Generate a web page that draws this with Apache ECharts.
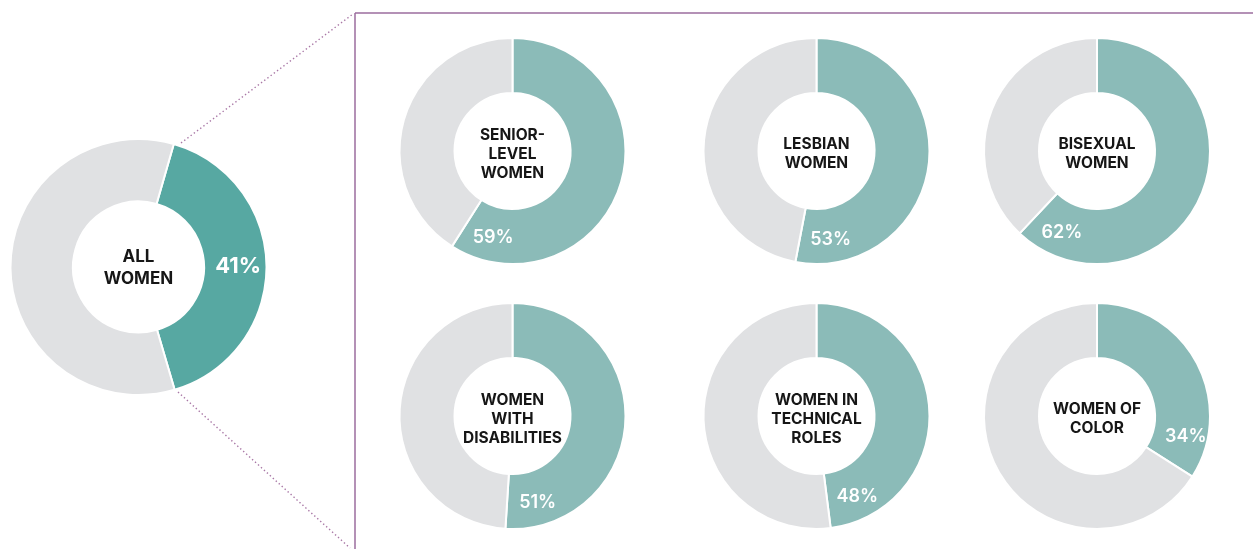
<!DOCTYPE html>
<html>
<head>
<meta charset="utf-8">
<script src="https://cdn.jsdelivr.net/npm/echarts@6/dist/echarts.min.js"></script>
<style>
  html, body { margin: 0; padding: 0; background: #ffffff; }
  #chart { width: 1253px; height: 549px; }
</style>
</head>
<body>
<div id="chart"></div>
<script>
// Share of women (percent) for each group
const mainLabel = 'ALL\nWOMEN';
const mainValue = 41;

const groupLabels = [
  'SENIOR-\nLEVEL\nWOMEN',
  'LESBIAN\nWOMEN',
  'BISEXUAL\nWOMEN',
  'WOMEN\nWITH\nDISABILITIES',
  'WOMEN IN\nTECHNICAL\nROLES',
  'WOMEN OF\nCOLOR'
];
const groupValues = [59, 53, 62, 51, 48, 34];

// Layout
const W = 1253, H = 549;
const FONT = 'Inter, "Open Sans", sans-serif';
const COL_X = [512.5, 816.5, 1097];
const ROW_Y = [151, 416];
const SMALL_R = [58, 113];
const BIG = { cx: 138.5, cy: 267, r: [65.5, 128], start: 74 };
const FRAME = { x: 355, y: 13 };

const TEAL_BIG = '#57a8a2';
const TEAL = '#8bbbb8';
const GREY = '#e0e1e3';

// Offset that moves an 'inside' label from the arc's middle to just before its end
function labelOffset(value, r0, r1) {
  const rad = d => d * Math.PI / 180;
  const mid = value * 3.6 / 2;
  const target = value * 3.6 - 18;
  const rm = (r0 + r1) / 2;
  const rt = 89;
  return [
    rt * Math.sin(rad(target)) - rm * Math.sin(rad(mid)),
    -rt * Math.cos(rad(target)) + rm * Math.cos(rad(mid))
  ];
}

function donut(cx, cy, radius, startAngle, value, name, color, pctStyle, centerStyle) {
  return {
    type: 'pie',
    center: [cx, cy],
    radius: radius,
    startAngle: startAngle,
    clockwise: true,
    silent: true,
    animation: false,
    avoidLabelOverlap: false,
    labelLine: { show: false },
    emphasis: { disabled: true },
    itemStyle: { borderColor: '#ffffff', borderWidth: 2 },
    data: [
      {
        value: value,
        name: name + '-share',
        itemStyle: { color: color },
        label: Object.assign({
          show: true,
          position: 'inside',
          formatter: value + '%',
          color: '#ffffff',
          fontFamily: FONT
        }, pctStyle)
      },
      {
        value: 100 - value,
        name: name,
        itemStyle: { color: GREY },
        label: Object.assign({
          show: true,
          position: 'center',
          formatter: name,
          color: '#161616',
          fontFamily: FONT,
          fontWeight: 'bold',
          align: 'center'
        }, centerStyle)
      }
    ]
  };
}

const series = [];
series.push(donut(BIG.cx, BIG.cy, BIG.r, BIG.start, mainValue, mainLabel, TEAL_BIG,
  { fontSize: 22, fontWeight: 'bold' },
  { fontSize: 17, lineHeight: 22, offset: [0, 1] }));

groupValues.forEach((v, i) => {
  const cx = COL_X[i % 3];
  const cy = ROW_Y[Math.floor(i / 3)];
  series.push(donut(cx, cy, SMALL_R, 90, v, groupLabels[i], TEAL,
    { fontSize: 18, fontWeight: 600, offset: labelOffset(v, SMALL_R[0], SMALL_R[1]) },
    { fontSize: 15.5, lineHeight: 19, offset: [0, 3] }));
});

const LINE = '#9b6d9e';
const DOT = '#a978a6';

const chart = echarts.init(document.getElementById('chart'), null, { renderer: 'canvas', width: W, height: H });
chart.setOption({
  backgroundColor: '#ffffff',
  animation: false,
  graphic: [
    { type: 'line', shape: { x1: FRAME.x, y1: FRAME.y, x2: W, y2: FRAME.y }, style: { stroke: LINE, lineWidth: 1.5 }, silent: true },
    { type: 'line', shape: { x1: FRAME.x, y1: FRAME.y, x2: FRAME.x, y2: H }, style: { stroke: LINE, lineWidth: 1.5 }, silent: true },
    { type: 'line', shape: { x1: 181, y1: 143, x2: 353, y2: 14 }, style: { stroke: DOT, lineWidth: 1.4, lineDash: [1.4, 2.6] }, silent: true },
    { type: 'line', shape: { x1: 178, y1: 392, x2: 350, y2: 548 }, style: { stroke: DOT, lineWidth: 1.4, lineDash: [1.4, 2.6] }, silent: true }
  ],
  series: series
});
</script>
</body>
</html>
